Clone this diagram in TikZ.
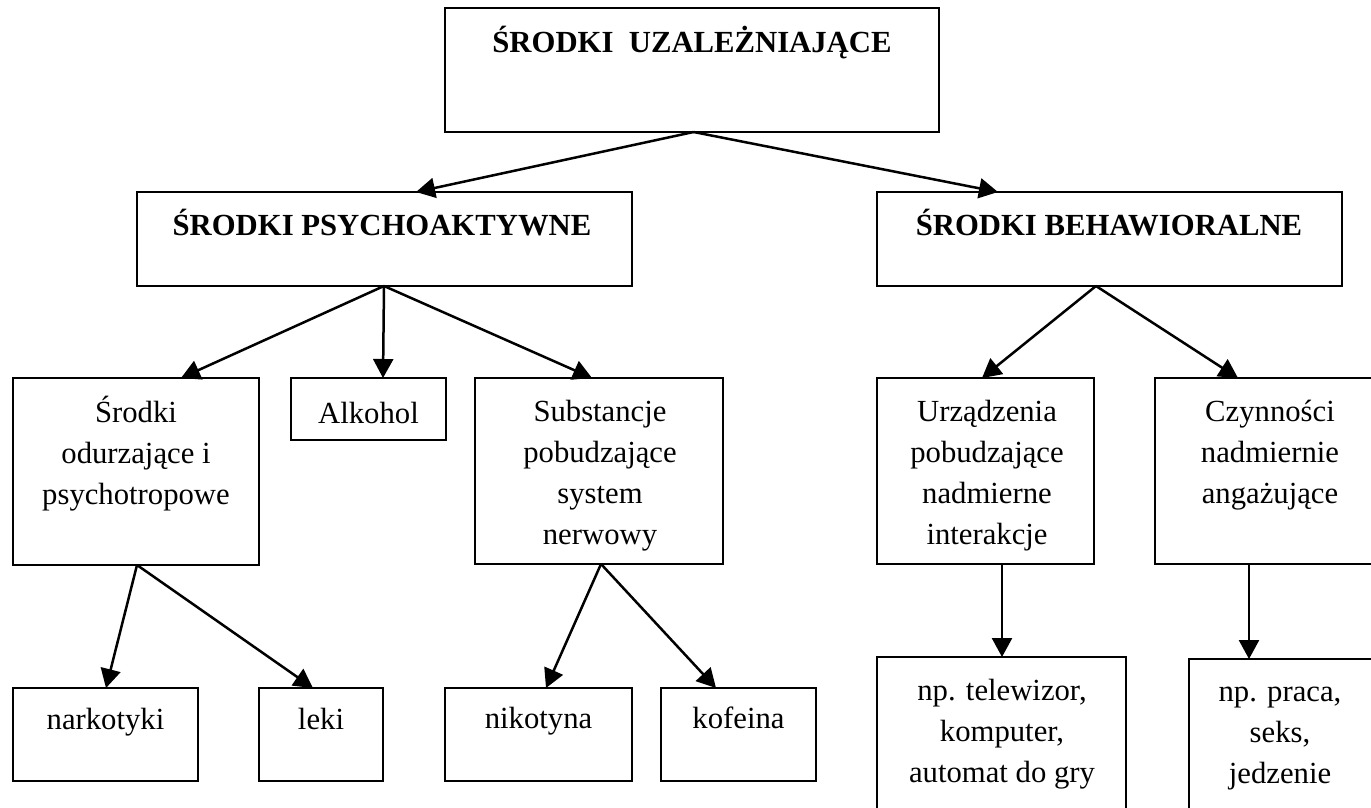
\documentclass[tikz,border=0pt]{standalone}
\usepackage{fontspec}
\setmainfont{Liberation Serif}
\usetikzlibrary{arrows.meta}
\tikzset{
  box/.style={draw=black, line width=1.8pt, inner sep=0pt, outer sep=0pt, fill=none},
  txt/.style={anchor=base, inner sep=0pt, outer sep=0pt, font=\fontsize{30.7}{41}\selectfont},
  hd/.style={txt, font=\fontsize{30.7}{41}\selectfont\bfseries},
  arr/.style={line width=2.5pt, -{Triangle[length=19pt,width=20pt]}}
}
\newcommand{\ml}[1]{\begin{tabular}[t]{@{}c@{}}#1\end{tabular}}
\begin{document}
\begin{tikzpicture}[x=1pt,y=-1pt]
\useasboundingbox (0,0) rectangle (1371,807);
\fill[white] (0,0) rectangle (1371,807);
\clip (0,0) rectangle (1371,807);

% boxes
\node[box, minimum width=494pt, minimum height=124pt] (top) at (692,70) {};
\node[box, minimum width=495pt, minimum height=94pt] (psy) at (384.5,239) {};
\node[box, minimum width=465pt, minimum height=94pt] (beh) at (1109.5,239) {};
\node[box, minimum width=246pt, minimum height=187pt] (srod) at (136,471.5) {};
\node[box, minimum width=155pt, minimum height=62pt] (alk) at (368.5,409) {};
\node[box, minimum width=248pt, minimum height=186pt] (sub) at (599,471) {};
\node[box, minimum width=217pt, minimum height=186pt] (urz) at (985.5,471) {};
\node[box, minimum width=235pt, minimum height=186pt] (czy) at (1272.5,471) {};
\node[box, minimum width=185pt, minimum height=93pt] (nar) at (105.5,734.5) {};
\node[box, minimum width=124pt, minimum height=93pt] (lek) at (321,734.5) {};
\node[box, minimum width=187pt, minimum height=93pt] (nik) at (538.5,734.5) {};
\node[box, minimum width=155pt, minimum height=93pt] (kof) at (738.5,734.5) {};
\node[box, minimum width=249pt, minimum height=183pt] (tel) at (1001.5,748.5) {};
\node[box, minimum width=201pt, minimum height=181pt] (pra) at (1289.5,749.5) {};

% texts
\node[hd] (ttop) at (692,52) {ŚRODKI\ \ UZALEŻNIAJĄCE};
\node[hd] (tpsy) at (382,235) {ŚRODKI PSYCHOAKTYWNE};
\node[hd] (tbeh) at (1109,235) {ŚRODKI BEHAWIORALNE};
\node[txt] (tsrod) at (136,422) {\ml{Środki\\ odurzające i\\ psychotropowe}};
\node[txt] (talk) at (368.5,423) {Alkohol};
\node[txt] (tsub) at (600,421) {\ml{Substancje\\ pobudzające\\ system\\ nerwowy}};
\node[txt] (turz) at (987,421) {\ml{Urządzenia\\ pobudzające\\ nadmierne\\ interakcje}};
\node[txt] (tczy) at (1270,421) {\ml{Czynności\\ nadmiernie\\ angażujące}};
\node[txt] (tnar) at (105.5,729) {narkotyki};
\node[txt] (tlek) at (321,729) {leki};
\node[txt] (tnik) at (538.5,728) {nikotyna};
\node[txt] (tkof) at (738.5,728) {kofeina};
\node[txt] (ttel) at (1002,700) {\ml{np. telewizor,\\ komputer,\\ automat do gry}};
\node[txt] (tpra) at (1280,701) {\ml{np. praca,\\ seks,\\ jedzenie}};

% connectors
\draw[arr] ([xshift=1.6pt]top.south) -- ([xshift=31.5pt]psy.north);
\draw[arr] ([xshift=1.6pt]top.south) -- ([xshift=-111.5pt]beh.north);
\draw[arr] ([xshift=-0.5pt]psy.south) -- ([xshift=45pt]srod.north);
\draw[arr] ([xshift=-0.5pt]psy.south) -- ([xshift=14.5pt]alk.north);
\draw[arr] ([xshift=-0.5pt]psy.south) -- ([xshift=-7pt]sub.north);
\draw[arr] ([xshift=-13.5pt]beh.south) -- ([xshift=-3.5pt]urz.north);
\draw[arr] ([xshift=-13.5pt]beh.south) -- ([xshift=-34.5pt]czy.north);
\draw[arr] ([xshift=1pt]srod.south) -- ([xshift=0.5pt]nar.north);
\draw[arr] ([xshift=1pt]srod.south) -- ([xshift=-8pt]lek.north);
\draw[arr] ([xshift=2pt]sub.south) -- ([xshift=7.5pt]nik.north);
\draw[arr] ([xshift=2pt]sub.south) -- ([xshift=-22.5pt]kof.north);
\draw[arr] ([xshift=16.5pt]urz.south) -- ([xshift=0.5pt]tel.north);
\draw[arr] ([xshift=-23.5pt]czy.south) -- ([xshift=-40.5pt]pra.north);
\end{tikzpicture}
\end{document}
